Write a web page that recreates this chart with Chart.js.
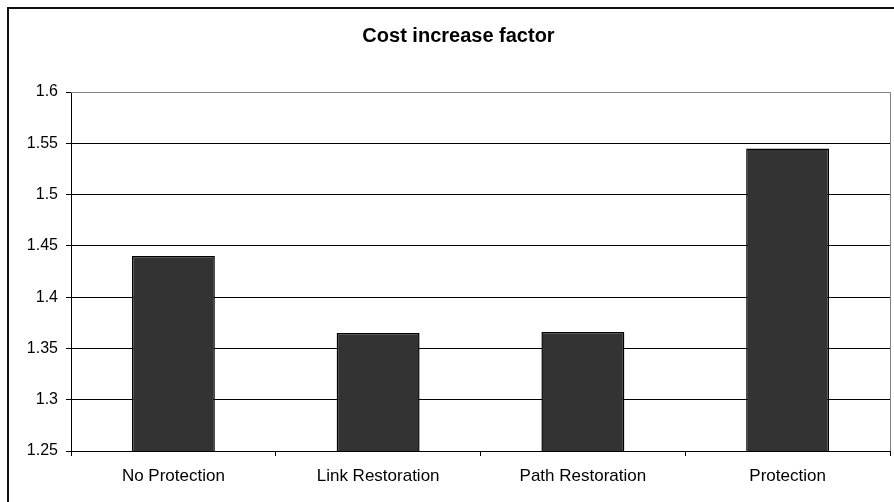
<!DOCTYPE html>
<html>
<head>
<meta charset="utf-8">
<script src="https://cdn.jsdelivr.net/npm/chart.js@4/dist/chart.umd.min.js"></script>
<style>
  html, body { margin: 0; padding: 0; background: #fff; overflow: hidden; }
  #wrap { position: relative; width: 894px; height: 502px; overflow: hidden; }
  #frame { position: absolute; left: 7px; top: 7px; width: 2000px; height: 2000px;
           border: 2px solid #111; box-sizing: border-box; pointer-events: none; }
  canvas { position: absolute; left: 0; top: 0; }
</style>
</head>
<body>
<div id="wrap">
  <div id="frame"></div>
  <canvas id="chart" width="894" height="502"></canvas>
</div>
<script>
// Cost increase factor per protection scheme
const categories = ['No Protection', 'Link Restoration', 'Path Restoration', 'Protection'];
const costFactor = [1.44, 1.365, 1.366, 1.545];
const yTicks = [1.25, 1.3, 1.35, 1.4, 1.45, 1.5, 1.55, 1.6];

const FONT = "'Liberation Sans', Arial, sans-serif";

// gray outline on the top and right of the plot area
const plotBorder = {
  id: 'plotBorder',
  afterDraw(chart) {
    const { ctx, chartArea: a } = chart;
    ctx.save();
    ctx.strokeStyle = '#808080';
    ctx.lineWidth = 1;
    ctx.beginPath();
    ctx.moveTo(a.left, Math.round(a.top) + 0.5);
    ctx.lineTo(Math.round(a.right) + 0.5, Math.round(a.top) + 0.5);
    ctx.lineTo(Math.round(a.right) + 0.5, a.bottom);
    ctx.stroke();
    ctx.restore();
  }
};

new Chart(document.getElementById('chart'), {
  type: 'bar',
  data: {
    labels: categories,
    datasets: [{
      data: costFactor,
      backgroundColor: '#333333',
      borderColor: '#000000',
      borderWidth: 1.5,
      categoryPercentage: 1,
      barPercentage: 0.405
    }]
  },
  options: {
    responsive: false,
    devicePixelRatio: 1,
    animation: false,
    layout: { padding: { left: 27, right: 4, top: 0, bottom: 0 } },
    plugins: {
      legend: { display: false },
      tooltip: { enabled: false },
      title: {
        display: true,
        text: 'Cost increase factor',
        color: '#000',
        font: { family: FONT, size: 20, weight: 'bold' },
        padding: { top: 24, bottom: 44 }
      }
    },
    scales: {
      x: {
        afterFit(scale) { scale.height = 51; },
        grid: {
          offset: true,
          drawOnChartArea: false,
          drawTicks: true,
          tickLength: 5,
          color: '#000'
        },
        border: { display: true, color: '#000', width: 1 },
        ticks: {
          color: '#000',
          padding: 10,
          maxRotation: 0,
          font: { family: FONT, size: 17 }
        }
      },
      y: {
        min: 1.25,
        max: 1.6,
        afterFit(scale) { scale.width = 44; },
        afterBuildTicks(scale) { scale.ticks = yTicks.map(v => ({ value: v })); },
        grid: {
          color: c => (c.tick && c.tick.value === 1.6 ? '#808080' : '#000'),
          lineWidth: 1,
          tickLength: 5,
          tickColor: '#000'
        },
        border: { display: true, color: '#000', width: 1 },
        ticks: {
          color: '#000',
          padding: 8,
          font: { family: FONT, size: 16 },
          callback: v => String(Number(v.toFixed(2)))
        }
      }
    }
  },
  plugins: [plotBorder]
});
</script>
</body>
</html>
